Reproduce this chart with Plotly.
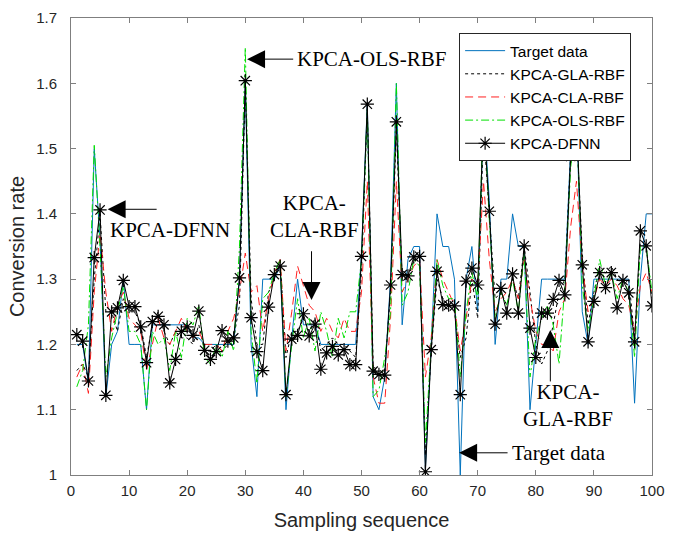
import plotly.graph_objects as go

# Sampling index of each prediction
samples = list(range(1, 101))

# Measured conversion rate
target = [1.20, 1.20, 1.14, 1.50, 1.36, 1.12, 1.20, 1.22, 1.30, 1.20,
          1.20, 1.20, 1.10, 1.23, 1.23, 1.23, 1.23, 1.23, 1.23, 1.23,
          1.21, 1.21, 1.20, 1.20, 1.20, 1.20, 1.20, 1.20, 1.30, 1.60,
          1.20, 1.12, 1.30, 1.30, 1.30, 1.32, 1.10, 1.21, 1.30, 1.23,
          1.23, 1.23, 1.20, 1.20, 1.20, 1.20, 1.20, 1.20, 1.20, 1.34,
          1.57, 1.12, 1.10, 1.15, 1.30, 1.60, 1.23, 1.33, 1.35, 1.35,
          1.01, 1.20, 1.40, 1.35, 1.35, 1.30, 1.00, 1.30, 1.35, 1.25,
          1.56, 1.42, 1.20, 1.30, 1.30, 1.40, 1.35, 1.35, 1.10, 1.20,
          1.30, 1.30, 1.30, 1.30, 1.30, 1.50, 1.56, 1.25, 1.20, 1.30,
          1.30, 1.30, 1.30, 1.30, 1.30, 1.30, 1.11, 1.30, 1.40, 1.40]

# KPCA-GLA-RBF predictions
gla = [1.16, 1.17, 1.15, 1.30, 1.40, 1.25, 1.25, 1.22, 1.27, 1.25,
       1.25, 1.23, 1.18, 1.23, 1.25, 1.22, 1.20, 1.22, 1.21, 1.21,
       1.20, 1.23, 1.19, 1.19, 1.20, 1.19, 1.20, 1.21, 1.26, 1.60,
       1.27, 1.20, 1.20, 1.28, 1.30, 1.33, 1.18, 1.22, 1.22, 1.24,
       1.22, 1.24, 1.19, 1.20, 1.21, 1.20, 1.20, 1.19, 1.18, 1.31,
       1.56, 1.17, 1.15, 1.16, 1.28, 1.53, 1.30, 1.30, 1.33, 1.33,
       1.03, 1.19, 1.30, 1.27, 1.26, 1.25, 1.18, 1.21, 1.30, 1.24,
       1.53, 1.40, 1.27, 1.28, 1.26, 1.30, 1.27, 1.35, 1.28, 1.20,
       1.17, 1.19, 1.23, 1.28, 1.30, 1.49, 1.53, 1.34, 1.23, 1.28,
       1.32, 1.31, 1.32, 1.30, 1.29, 1.30, 1.21, 1.36, 1.35, 1.27]

# KPCA-CLA-RBF predictions
cla = [1.15, 1.17, 1.125, 1.28, 1.37, 1.28, 1.22, 1.26, 1.28, 1.24,
       1.23, 1.22, 1.16, 1.20, 1.24, 1.21, 1.20, 1.22, 1.24, 1.22,
       1.21, 1.22, 1.20, 1.20, 1.20, 1.19, 1.22, 1.24, 1.28, 1.34,
       1.28, 1.29, 1.22, 1.27, 1.31, 1.33, 1.19, 1.25, 1.32, 1.29,
       1.26, 1.25, 1.22, 1.24, 1.22, 1.21, 1.24, 1.22, 1.22, 1.28,
       1.45, 1.15, 1.11, 1.11, 1.24, 1.45, 1.28, 1.30, 1.32, 1.33,
       1.15, 1.21, 1.33, 1.30, 1.28, 1.26, 1.19, 1.24, 1.30, 1.29,
       1.45, 1.33, 1.25, 1.27, 1.28, 1.30, 1.27, 1.33, 1.27, 1.22,
       1.20, 1.20, 1.19, 1.25, 1.27, 1.38, 1.45, 1.32, 1.25, 1.27,
       1.30, 1.29, 1.30, 1.29, 1.27, 1.26, 1.22, 1.29, 1.31, 1.28]

# KPCA-OLS-RBF predictions
ols = [1.135, 1.16, 1.23, 1.505, 1.35, 1.15, 1.21, 1.25, 1.29, 1.22,
       1.22, 1.20, 1.10, 1.22, 1.20, 1.21, 1.16, 1.22, 1.18, 1.24,
       1.23, 1.26, 1.18, 1.17, 1.20, 1.18, 1.22, 1.19, 1.35, 1.655,
       1.22, 1.14, 1.27, 1.28, 1.31, 1.33, 1.12, 1.20, 1.27, 1.21,
       1.24, 1.19, 1.25, 1.22, 1.18, 1.24, 1.21, 1.25, 1.25, 1.33,
       1.56, 1.12, 1.13, 1.18, 1.25, 1.60, 1.26, 1.28, 1.33, 1.32,
       1.05, 1.20, 1.33, 1.29, 1.27, 1.27, 1.15, 1.25, 1.31, 1.27,
       1.57, 1.39, 1.24, 1.28, 1.26, 1.30, 1.25, 1.34, 1.15, 1.21,
       1.24, 1.26, 1.23, 1.17, 1.29, 1.47, 1.56, 1.29, 1.22, 1.27,
       1.33, 1.29, 1.31, 1.27, 1.30, 1.28, 1.18, 1.35, 1.35, 1.28]

# KPCA-DFNN predictions
dfnn = [1.215, 1.205, 1.144, 1.333, 1.406, 1.122, 1.250, 1.256, 1.298, 1.258,
        1.258, 1.227, 1.172, 1.235, 1.243, 1.230, 1.141, 1.177, 1.220, 1.227,
        1.214, 1.251, 1.191, 1.177, 1.189, 1.221, 1.205, 1.210, 1.302, 1.604,
        1.241, 1.189, 1.160, 1.257, 1.307, 1.320, 1.123, 1.208, 1.214, 1.247,
        1.213, 1.231, 1.162, 1.187, 1.197, 1.184, 1.192, 1.169, 1.169, 1.335,
        1.568, 1.159, 1.154, 1.153, 1.291, 1.541, 1.307, 1.305, 1.334, 1.335,
        1.005, 1.192, 1.312, 1.261, 1.260, 1.259, 1.123, 1.297, 1.317, 1.291,
        1.550, 1.404, 1.231, 1.286, 1.248, 1.308, 1.248, 1.351, 1.225, 1.180,
        1.248, 1.248, 1.269, 1.298, 1.276, 1.488, 1.550, 1.322, 1.204, 1.266,
        1.310, 1.287, 1.310, 1.256, 1.298, 1.279, 1.204, 1.374, 1.351, 1.259]

x_ticks = list(range(0, 101, 10))
y_ticks = [1.0, 1.1, 1.2, 1.3, 1.4, 1.5, 1.6, 1.7]
y_tick_text = ["1", "1.1", "1.2", "1.3", "1.4", "1.5", "1.6", "1.7"]

SANS = "Liberation Sans, Arial, sans-serif"
SERIF = "Liberation Serif, Times New Roman, serif"

fig = go.Figure()
fig.add_trace(go.Scatter(x=samples, y=target, name="Target data", mode="lines",
                         line=dict(color="#0072BD", width=1)))
fig.add_trace(go.Scatter(x=samples, y=gla, name="KPCA-GLA-RBF", mode="lines",
                         line=dict(color="#000000", width=1, dash="dot")))
fig.add_trace(go.Scatter(x=samples, y=cla, name="KPCA-CLA-RBF", mode="lines",
                         line=dict(color="#FF2020", width=1, dash="8px,5px")))
fig.add_trace(go.Scatter(x=samples, y=ols, name="KPCA-OLS-RBF", mode="lines",
                         line=dict(color="#00E000", width=1, dash="8px,3px,2px,3px")))
fig.add_trace(go.Scatter(x=samples, y=dfnn, name="KPCA-DFNN", mode="lines+markers",
                         line=dict(color="#000000", width=1),
                         marker=dict(symbol="asterisk-open", size=11,
                                     line=dict(color="#000000", width=1.2))))

# Arrow callouts (head at x/y, tail at ax/ay)
arrows = [
    dict(x=30.3, y=1.637, ax=38.5, ay=1.637),
    dict(x=6.3, y=1.407, ax=15.0, ay=1.407),
    dict(x=41.4, y=1.268, ax=41.4, ay=1.345),
    dict(x=82.5, y=1.222, ax=82.5, ay=1.141),
    dict(x=66.8, y=1.034, ax=75.4, ay=1.034),
]
for a in arrows:
    fig.add_annotation(x=a["x"], y=a["y"], ax=a["ax"], ay=a["ay"],
                       xref="x", yref="y", axref="x", ayref="y",
                       text="", showarrow=True, arrowhead=2, arrowsize=3.6,
                       arrowwidth=1, arrowcolor="#000000")

labels = [
    dict(x=38.6, y=1.637, text="KPCA-OLS-RBF", xanchor="left"),
    dict(x=6.4, y=1.375, text="KPCA-DFNN", xanchor="left"),
    dict(x=41.9, y=1.396, text="KPCA-<br>CLA-RBF", xanchor="center"),
    dict(x=85.6, y=1.106, text="KPCA-<br>GLA-RBF", xanchor="center"),
    dict(x=75.5, y=1.034, text="Target data", xanchor="left"),
]
for lb in labels:
    fig.add_annotation(x=lb["x"], y=lb["y"], text=lb["text"], xref="x", yref="y",
                       xanchor=lb["xanchor"], yanchor="middle", align="center",
                       showarrow=False, font=dict(family=SERIF, size=21, color="#000000"))

axis_common = dict(showline=True, linecolor="#7f7f7f", linewidth=1, mirror="ticks",
                   ticks="inside", ticklen=5, tickcolor="#7f7f7f", showgrid=False,
                   zeroline=False, automargin=False,
                   tickfont=dict(family=SANS, size=15, color="#262626"))

fig.update_layout(
    width=678, height=534,
    margin=dict(l=71, r=26, t=18, b=59),
    paper_bgcolor="#ffffff", plot_bgcolor="#ffffff",
    font=dict(family=SANS, color="#262626"),
    xaxis=dict(range=[0, 100], tickvals=x_ticks,
               title=dict(text="Sampling sequence", font=dict(family=SANS, size=20, color="#262626"),
                          standoff=14),
               ticklabelstandoff=2,
               **axis_common),
    yaxis=dict(range=[1, 1.7], tickvals=y_ticks, ticktext=y_tick_text,
               title=dict(text="Conversion rate", font=dict(family=SANS, size=20, color="#262626"),
                          standoff=6),
               ticklabelstandoff=10,
               **axis_common),
    legend=dict(x=0.668, y=0.967, xanchor="left", yanchor="top",
                bgcolor="#ffffff", bordercolor="#262626", borderwidth=1,
                font=dict(family=SANS, size=15.5, color="#000000"),
                tracegroupgap=0, itemwidth=40),
    showlegend=True,
)

fig.write_html("out.html")
